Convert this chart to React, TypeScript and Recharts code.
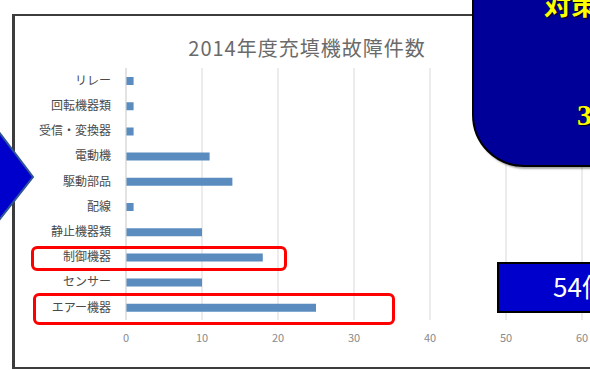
import { BarChart, Bar, XAxis, YAxis, CartesianGrid } from 'recharts';

// 2014年度 充填機の故障件数（部位別）
const categories = [
  'リレー',
  '回転機器類',
  '受信・変換器',
  '電動機',
  '駆動部品',
  '配線',
  '静止機器類',
  '制御機器',
  'センサー',
  'エアー機器',
];
const counts = [1, 1, 1, 11, 14, 1, 10, 18, 10, 25];
const xTicks = [0, 10, 20, 30, 40, 50, 60];

const data = categories.map((name, i) => ({ name, count: counts[i] }));

const FONT = '"Noto Sans CJK JP", "Noto Sans", sans-serif';

export default function App() {
  return (
    <div
      style={{
        position: 'fixed',
        left: 0,
        top: 0,
        width: 590,
        height: 370,
        overflow: 'hidden',
        background: '#fff',
        fontFamily: FONT,
      }}
    >
      {/* slide frame around the chart */}
      <div
        style={{
          position: 'absolute',
          left: 12,
          top: 14,
          width: 640,
          height: 351,
          border: '2px solid #3c3c3c',
          borderLeftWidth: 3,
        }}
      />

      <div
        style={{
          position: 'absolute',
          left: 0,
          top: 33,
          width: 614,
          textAlign: 'center',
          fontSize: 20,
          letterSpacing: 1,
          color: '#6a6a6a',
        }}
      >
        2014年度充填機故障件数
      </div>

      <div style={{ position: 'absolute', left: 0, top: 0 }}>
        <BarChart
          width={590}
          height={370}
          data={data}
          layout="vertical"
          margin={{ top: 68, right: 8, bottom: 20, left: 10 }}
        >
          <CartesianGrid horizontal={false} stroke="#d9d9d9" />
          <XAxis
            type="number"
            domain={[0, 60]}
            ticks={xTicks}
            height={30}
            axisLine={false}
            tickLine={false}
            tickMargin={8}
            tick={{ fill: '#8a8a8a', fontSize: 11, fontFamily: FONT }}
          />
          <YAxis
            type="category"
            dataKey="name"
            width={116}
            axisLine={{ stroke: '#d9d9d9' }}
            tickLine={false}
            tickMargin={9}
            interval={0}
            tick={{ fill: '#4a4a4a', fontSize: 12, fontFamily: FONT }}
          />
          <Bar dataKey="count" fill="#5b8cbf" barSize={8} isAnimationActive={false} />
        </BarChart>
      </div>

      {/* red highlight boxes */}
      <div
        style={{
          position: 'absolute',
          left: 31,
          top: 246,
          width: 250,
          height: 19,
          border: '3px solid #ff0000',
          borderRadius: 6,
        }}
      />
      <div
        style={{
          position: 'absolute',
          left: 33,
          top: 293,
          width: 356,
          height: 26,
          border: '3px solid #ff0000',
          borderRadius: 6,
        }}
      />

      {/* arrow on the left */}
      <svg
        width={60}
        height={370}
        style={{ position: 'absolute', left: 0, top: 0 }}
      >
        <polygon
          points="-4,128 33,177 -4,224"
          fill="#0000cc"
          stroke="#2f5597"
          strokeWidth={2}
        />
      </svg>

      {/* callout box top right */}
      <div
        style={{
          position: 'absolute',
          left: 472,
          top: -60,
          width: 220,
          height: 223,
          background: '#000099',
          border: '2px solid #000',
          borderRadius: 52,
          boxShadow: '2px 2px 2px rgba(0,0,0,0.35)',
        }}
      />
      <div
        style={{
          position: 'absolute',
          left: 544,
          top: -16,
          fontSize: 27,
          fontWeight: 'bold',
          fontFamily: '"DejaVu Serif", "Noto Sans CJK JP", serif',
          color: '#ffff00',
          whiteSpace: 'nowrap',
          textShadow: '1px 1px 1px #000',
        }}
      >
        対策
      </div>
      <div
        style={{
          position: 'absolute',
          left: 577,
          top: 98,
          fontSize: 30,
          fontWeight: 'bold',
          fontFamily: '"Liberation Serif", serif',
          color: '#ffff00',
          whiteSpace: 'nowrap',
          textShadow: '1px 1px 1px #000',
        }}
      >
        3
      </div>

      {/* 54件 label */}
      <div
        style={{
          position: 'absolute',
          left: 497,
          top: 262,
          width: 120,
          height: 47,
          background: '#0000cc',
          border: '2px solid #000',
        }}
      />
      <div
        style={{
          position: 'absolute',
          left: 553,
          top: 271,
          fontSize: 26,
          lineHeight: '30px',
          color: '#fff',
          whiteSpace: 'nowrap',
          fontFamily: FONT,
        }}
      >
        54件
      </div>
    </div>
  );
}
